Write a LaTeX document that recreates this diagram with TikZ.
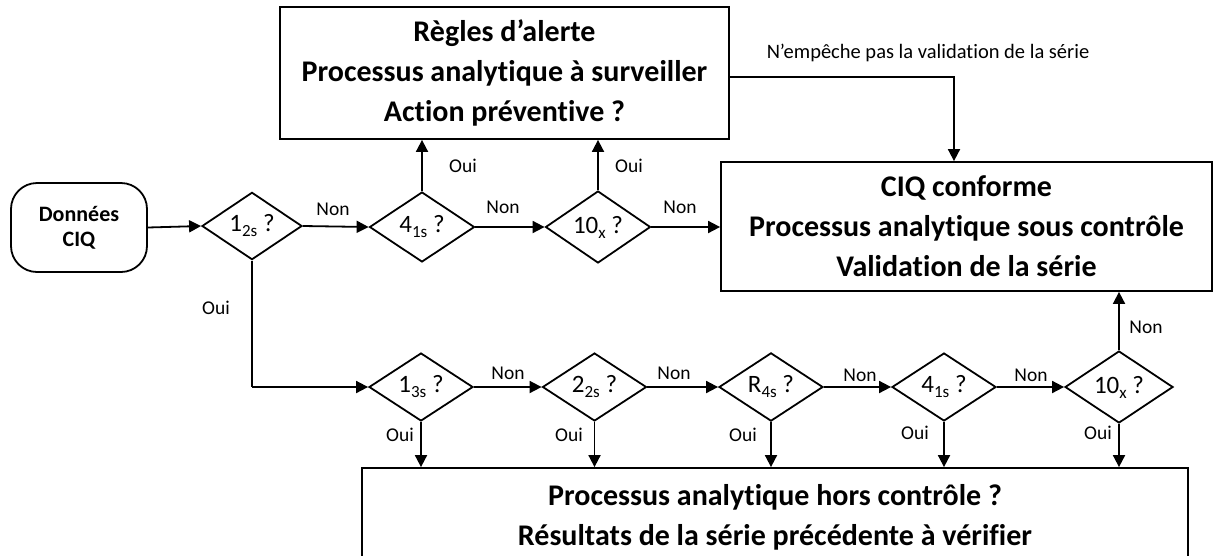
\documentclass[tikz,border=0pt]{standalone}
\usepackage{fontspec}
\setmainfont{Carlito}[Ligatures=NoCommon]
\usetikzlibrary{shapes.geometric,arrows.meta}
\newcommand\sbs[1]{\raisebox{-5pt}{\fontsize{17}{17}\selectfont #1}}
\begin{document}
\begin{tikzpicture}[x=1pt,y=-1pt,line width=1.8pt,
  box/.style={draw,rectangle,inner sep=0pt,align=center,font=\bfseries\fontsize{30}{40}\selectfont},
  startbox/.style={draw,rectangle,rounded corners=26pt,inner sep=0pt,align=center,minimum width=136pt,minimum height=89pt,font=\bfseries\fontsize{22}{25}\selectfont},
  dia/.style={draw,diamond,inner sep=0pt,minimum width=104pt,minimum height=68pt,font=\fontsize{25}{28}\selectfont},
  lbl/.style={font=\fontsize{19.5}{22}\selectfont,inner sep=0pt},
  small/.style={font=\fontsize{20.5}{22}\selectfont,inner sep=0pt},
  arr/.style={-{Triangle[length=12pt,width=12pt]}}]
\useasboundingbox (0,0) rectangle (1214,555);
\clip (0,0) rectangle (1214,555);

% boxes
\node[startbox] (data) at (79,227.5) {Données\\CIQ};
\node[box,minimum width=449pt,minimum height=132pt] (alert) at (504.5,73) {Règles d’alerte\\Processus analytique à surveiller\\Action préventive ?};
\node[box,minimum width=491pt,minimum height=129pt] (ok) at (966.5,226.5) {CIQ conforme\\Processus analytique sous contrôle\\Validation de la série};
\node[box,minimum width=826pt,minimum height=98pt] (out) at (775,517) {Processus analytique hors contrôle ?\\Résultats de la série précédente à vérifier};

% top row diamonds
\node[dia,minimum width=100pt,minimum height=60pt] (t1) at (252,226) {1\sbs{2s} ?};
\node[dia,minimum width=105pt,minimum height=70pt] (t2) at (422,227) {4\sbs{1s} ?};
\node[dia,minimum width=105pt,minimum height=72pt] (t3) at (598,227) {10\sbs{x} ?};

% bottom row diamonds
\node[dia] (b1) at (421,387) {1\sbs{3s} ?};
\node[dia] (b2) at (594.5,387) {2\sbs{2s} ?};
\node[dia] (b3) at (771,387) {R\sbs{4s} ?};
\node[dia] (b4) at (944,387) {4\sbs{1s} ?};
\node[dia,minimum width=108pt] (b5) at (1119,387) {10\sbs{x} ?};

\coordinate (corner) at (t1.south |- b1.west);
\coordinate (bend) at (954,77);

% top row connectors
\draw[arr] (data.east) -- (t1.west);
\draw[arr] (t1.east) -- (t2.west);
\draw[arr] (t2.east) -- (t3.west);
\draw[arr] (t3.east) -- (t3.east -| ok.west);
\draw[arr] (t2.north) -- (t2.north |- alert.south);
\draw[arr] (t3.north) -- (t3.north |- alert.south);
\draw[arr] (alert.east |- bend) -- (bend) -- (bend |- ok.north);
\draw (t1.south) -- (corner);
\draw[arr] (corner) -- (b1.west);

% bottom row connectors
\draw[arr] (b1.east) -- (b2.west);
\draw[arr] (b2.east) -- (b3.west);
\draw[arr] (b3.east) -- (b4.west);
\draw[arr] (b4.east) -- (b5.west);
\draw[arr] (b5.north) -- (b5.north |- ok.south);
\foreach \d in {b1,b2,b3,b4,b5}{
  \draw[arr] (\d.south) -- (\d.south |- out.north);
}

% labels
\node[lbl] (l1) at (333,209) {Non};
\node[lbl] (l2) at (503,207) {Non};
\node[lbl] (l3) at (680,207) {Non};
\node[lbl] (l4) at (463,166) {Oui};
\node[lbl] (l5) at (629,166) {Oui};
\node[lbl] (l6) at (216,308) {Oui};
\node[small] (l7) at (928,53) {N’empêche pas la validation de la série};
\node[lbl] (l8) at (508,373) {Non};
\node[lbl] (l9) at (674,373) {Non};
\node[lbl] (l10) at (860,375) {Non};
\node[lbl] (l11) at (1031,375) {Non};
\node[lbl] (l12) at (1146,327) {Non};
\node[lbl] (l13) at (400,435) {Oui};
\node[lbl] (l14) at (569,435) {Oui};
\node[lbl] (l15) at (743,435) {Oui};
\node[lbl] (l16) at (915,433) {Oui};
\node[lbl] (l17) at (1098,433) {Oui};
\end{tikzpicture}
\end{document}
